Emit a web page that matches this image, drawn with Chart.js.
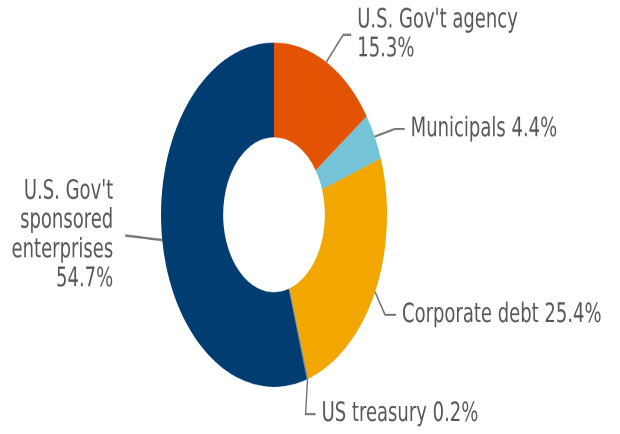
<!DOCTYPE html>
<html>
<head>
<meta charset="utf-8">
<script src="https://cdn.jsdelivr.net/npm/chart.js@4.4.0/dist/chart.umd.min.js"></script>
<style>
  html, body { margin: 0; padding: 0; background: #fff; width: 620px; height: 434px; overflow: hidden; }
  #outer { width: 620px; height: 434px; position: relative; }
  #wrap { position: absolute; left: 0; top: 0; width: 620px; height: 285px; transform: scaleY(1.5228); transform-origin: 0 0; }
</style>
</head>
<body>
<div id="outer"><div id="wrap"><canvas id="pie" width="620" height="285"></canvas></div></div>
<script>
var categories = ["U.S. Gov't agency", "Municipals", "Corporate debt", "US treasury", "U.S. Gov't sponsored enterprises"];
var values = [15.3, 4.4, 25.4, 0.2, 54.7];
var colors = ["#e25304", "#74c3d6", "#f1a600", "#8a8a8a", "#023d72"];
// how each label is wrapped (last line gets the percentage)
var labelLines = [
    ["U.S. Gov't agency", ""],
    ["Municipals"],
    ["Corporate debt"],
    ["US treasury"],
    ["U.S. Gov't", "sponsored", "enterprises", ""]
];
// leader line: elbow offset from slice edge, horizontal run, gap to text, text side
var leaders = [
    {dx: 17, dy: -18, run: 8, gap: 6, side: 1},
    {dx: 20, dy: -5, run: 10, gap: 6, side: 1},
    {dx: 10, dy: 15, run: 11, gap: 6, side: 1},
    {dx: -2, dy: 23, run: 10, gap: 6, side: 1},
    {dx: -37, dy: -3, run: 0, gap: 12, side: -1}
];

function $each(arr, fn) { for (var i = 0; i < arr.length; i++) fn(arr[i], i); }

var calloutPlugin = {
    id: 'callouts',
    afterDatasetsDraw: function(chart) {
        var ctx = chart.ctx;
        var meta = chart.getDatasetMeta(0);
        ctx.save();
        ctx.font = "18px 'DejaVu Sans'";
        ctx.textBaseline = 'middle';
        $each(meta.data, function(arc, i) {
            var mid = (arc.startAngle + arc.endAngle) / 2;
            var ax = arc.x + Math.cos(mid) * arc.outerRadius;
            var ay = arc.y + Math.sin(mid) * arc.outerRadius;
            var ld = leaders[i];
            var ex = ax + ld.dx, ey = ay + ld.dy;
            var tx = ex + ld.run * ld.side;
            ctx.strokeStyle = '#737373';
            ctx.lineWidth = 1.4;
            ctx.beginPath();
            ctx.moveTo(ax, ay);
            ctx.lineTo(ex, ey);
            ctx.lineTo(tx, ey);
            ctx.stroke();

            var lines = labelLines[i].slice();
            var pct = values[i].toFixed(1) + '%';
            if (lines[lines.length - 1] === '') lines[lines.length - 1] = pct;
            else lines[lines.length - 1] += ' ' + pct;
            var lh = 19.3;
            var y0 = ey - (lines.length - 1) * lh / 2;
            ctx.fillStyle = '#585858';
            ctx.textAlign = ld.side > 0 ? 'left' : 'right';
            var x = tx + ld.gap * ld.side;
            for (var k = 0; k < lines.length; k++) {
                ctx.fillText(lines[k], x, y0 + k * lh);
            }
        });
        ctx.restore();
    }
};

var config = {
    type: 'doughnut',
    data: {
        labels: categories,
        datasets: [{
            data: values,
            backgroundColor: colors,
            borderWidth: 0
        }]
    },
    options: {
        responsive: false,
        animation: false,
        devicePixelRatio: 2,
        cutout: '45%',
        layout: { padding: { left: 100, right: 172, top: 28, bottom: 31 } },
        plugins: {
            legend: { display: false },
            tooltip: { enabled: false }
        }
    },
    plugins: [calloutPlugin]
};

var ctx = document.getElementById('pie').getContext('2d');
var chart = new Chart(ctx, config);
</script>
</body>
</html>
